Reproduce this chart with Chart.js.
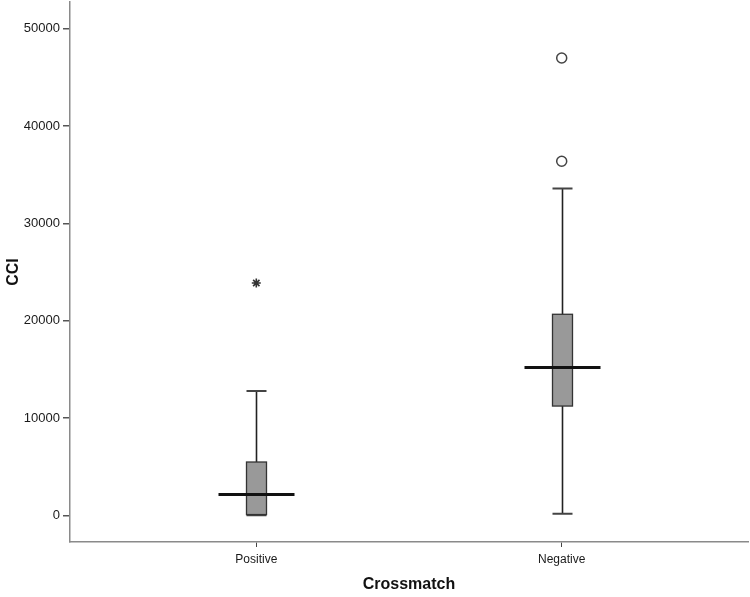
<!DOCTYPE html>
<html>
<head>
<meta charset="utf-8">
<script src="https://cdn.jsdelivr.net/npm/chart.js@4/dist/chart.umd.min.js"></script>
<style>
  html, body { margin: 0; padding: 0; background: #fff; }
  #wrap { width: 750px; height: 597px; }
</style>
</head>
<body>
<div id="wrap"><canvas id="BoxCCI"></canvas></div>
<script>
(function () {
    "use strict";

    // Data
    const categories = ['Positive', 'Negative'];
    const whiskerLow = [0, 170];
    const q1 = [80, 11230];
    const medians = [2130, 15180];
    const q3 = [5480, 20660];
    const whiskerHigh = [12775, 33575];
    const outliersCircle = [[], [36380, 47000]];
    const outliersStar = [[23875], []];
    const yTicks = [0, 10000, 20000, 30000, 40000, 50000];

    // Colors
    const axis_gray = '#8a8a8a';
    const box_fill = '#999999';
    const box_edge = '#333333';
    const text_dark = '#1a1a1a';

    // Build outlier point lists
    const circlePts = [];
    const starPts = [];
    categories.forEach(function (c, i) {
        outliersCircle[i].forEach(v => circlePts.push({ x: i + 1, y: v }));
        outliersStar[i].forEach(v => starPts.push({ x: i + 1, y: v }));
    });

    // Box plot drawing through the chart scales
    const boxPlugin = {
        id: 'boxes',
        beforeDatasetsDraw(chart) {
            const ctx = chart.ctx;
            const xs = chart.scales.x;
            const ys = chart.scales.y;
            const halfBox = 10;
            const halfMed = 38;
            ctx.save();
            categories.forEach(function (c, i) {
                const cx = Math.round(xs.getPixelForValue(i + 1)) + 0.5;
                const yLo = ys.getPixelForValue(whiskerLow[i]);
                const yQ1 = ys.getPixelForValue(q1[i]);
                const yMed = ys.getPixelForValue(medians[i]);
                const yQ3 = ys.getPixelForValue(q3[i]);
                const yHi = ys.getPixelForValue(whiskerHigh[i]);

                // whiskers
                ctx.strokeStyle = '#222';
                ctx.lineWidth = 1.6;
                ctx.beginPath();
                ctx.moveTo(cx, yQ3); ctx.lineTo(cx, yHi);
                ctx.moveTo(cx, yQ1); ctx.lineTo(cx, yLo);
                ctx.stroke();
                ctx.strokeStyle = '#444';
                ctx.lineWidth = 2;
                ctx.beginPath();
                ctx.moveTo(cx - halfBox, yHi); ctx.lineTo(cx + halfBox, yHi);
                ctx.moveTo(cx - halfBox, yLo); ctx.lineTo(cx + halfBox, yLo);
                ctx.stroke();

                // box
                ctx.fillStyle = box_fill;
                ctx.fillRect(cx - halfBox, yQ3, halfBox * 2, yQ1 - yQ3);
                ctx.strokeStyle = box_edge;
                ctx.lineWidth = 1.3;
                ctx.strokeRect(cx - halfBox, yQ3, halfBox * 2, yQ1 - yQ3);

                // median
                ctx.strokeStyle = '#111';
                ctx.lineWidth = 3;
                ctx.beginPath();
                ctx.moveTo(cx - halfMed, yMed); ctx.lineTo(cx + halfMed, yMed);
                ctx.stroke();
            });
            ctx.restore();
        }
    };

    const ctb = document.getElementById('BoxCCI').getContext('2d');
    const BoxChart = new Chart(ctb, {
        type: 'scatter',
        data: {
            datasets: [{
                label: 'Outliers',
                data: circlePts,
                pointStyle: 'circle',
                pointRadius: 5,
                pointBorderWidth: 1.5,
                pointBorderColor: '#444',
                pointBackgroundColor: '#fff'
            }, {
                label: 'Extremes',
                data: starPts,
                pointStyle: 'star',
                pointRadius: 4.5,
                pointBorderWidth: 1.6,
                pointBorderColor: '#333',
                pointBackgroundColor: '#333'
            }]
        },
        options: {
            responsive: true,
            maintainAspectRatio: false,
            animation: false,
            layout: {
                autoPadding: false,
                padding: { top: 2, right: 2, left: 0, bottom: 0 }
            },
            scales: {
                x: {
                    type: 'linear',
                    min: 0.39,
                    max: 2.61,
                    afterBuildTicks: function (scale) {
                        scale.ticks = categories.map((c, i) => ({ value: i + 1 }));
                    },
                    afterFit: function (scale) {
                        scale.height = 55;
                        scale.paddingLeft = 0;
                        scale.paddingRight = 0;
                    },
                    border: { display: true, color: axis_gray, width: 1.5 },
                    grid: {
                        display: true,
                        drawOnChartArea: false,
                        drawTicks: true,
                        tickLength: 5,
                        color: '#444',
                        lineWidth: 1
                    },
                    ticks: {
                        color: text_dark,
                        padding: 5,
                        font: { family: 'Liberation Sans, Arial, sans-serif', size: 12 },
                        callback: function (value) {
                            return categories[Math.round(value) - 1];
                        }
                    },
                    title: {
                        display: true,
                        text: 'Crossmatch',
                        color: '#111',
                        padding: { top: 0, bottom: 3 },
                        font: { family: 'Liberation Sans, Arial, sans-serif', size: 16, weight: 'bold' }
                    }
                },
                y: {
                    min: -2740,
                    max: 52750,
                    afterBuildTicks: function (scale) {
                        scale.ticks = yTicks.map(v => ({ value: v }));
                    },
                    afterFit: function (scale) {
                        scale.width = 70;
                        scale.paddingTop = 0;
                        scale.paddingBottom = 0;
                    },
                    border: { display: true, color: axis_gray, width: 1.5 },
                    grid: {
                        display: true,
                        drawOnChartArea: false,
                        drawTicks: true,
                        tickLength: 7,
                        color: '#555',
                        lineWidth: 1.5
                    },
                    ticks: {
                        color: text_dark,
                        padding: 3,
                        font: { family: 'Liberation Sans, Arial, sans-serif', size: 13 },
                        callback: function (value) {
                            return value;
                        }
                    },
                    title: {
                        display: true,
                        text: 'CCI',
                        color: '#111',
                        padding: { top: 4, bottom: 4 },
                        font: { family: 'Liberation Sans, Arial, sans-serif', size: 16, weight: 'bold' }
                    }
                }
            },
            plugins: {
                legend: { display: false },
                tooltip: { enabled: false }
            }
        },
        plugins: [boxPlugin]
    });
})();
</script>
</body>
</html>
